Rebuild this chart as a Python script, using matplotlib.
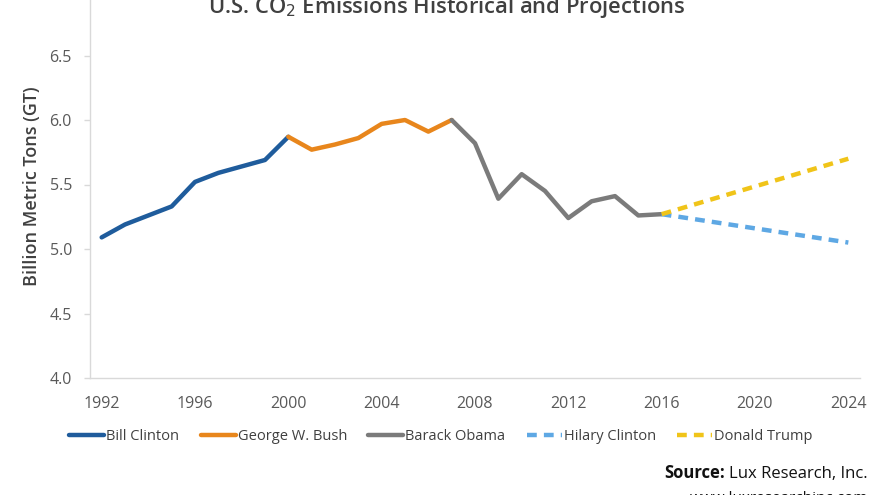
import matplotlib
matplotlib.use("Agg")
import matplotlib.pyplot as plt

# ---- data ----
clinton_years = [1992, 1993, 1994, 1995, 1996, 1997, 1998, 1999, 2000]
clinton_vals = [5.09, 5.19, 5.26, 5.33, 5.52, 5.59, 5.64, 5.69, 5.87]
bush_years = [2000, 2001, 2002, 2003, 2004, 2005, 2006, 2007]
bush_vals = [5.87, 5.77, 5.81, 5.86, 5.97, 6.00, 5.91, 6.00]
obama_years = [2007, 2008, 2009, 2010, 2011, 2012, 2013, 2014, 2015, 2016]
obama_vals = [6.00, 5.82, 5.39, 5.58, 5.45, 5.24, 5.37, 5.41, 5.26, 5.27]
hilary_years = [2016, 2024]
hilary_vals = [5.27, 5.05]
trump_years = [2016, 2024]
trump_vals = [5.27, 5.70]

x_ticks = [1992, 1996, 2000, 2004, 2008, 2012, 2016, 2020, 2024]
y_ticks = [4.0, 4.5, 5.0, 5.5, 6.0, 6.5, 7.0]
y_labels = ["4.0", "4.5", "5.0", "5.5", "6.0", "6.5", "7.0"]

title = "U.S. CO$_2$ Emissions Historical and Projections"
ylabel = "Billion Metric Tons (GT)"

plt.rcParams['font.family'] = ['Open Sans', 'DejaVu Sans']

fig = plt.figure(figsize=(8.8, 4.95), dpi=100)
ax = fig.add_axes([90/880, 1 - 378/495, 770/880, 387/495])

lw = 3.2
ax.plot(clinton_years, clinton_vals, color="#1f5c9c", lw=lw, label="Bill Clinton", solid_capstyle="round")
ax.plot(bush_years, bush_vals, color="#e8861c", lw=lw, label="George W. Bush", solid_capstyle="round")
ax.plot(obama_years, obama_vals, color="#7b7b7b", lw=lw, label="Barack Obama", solid_capstyle="round")
ax.plot(hilary_years, hilary_vals, color="#5ea8e4", lw=lw, ls=(0, (2.2, 1.6)), label="Hilary Clinton")
ax.plot(trump_years, trump_vals, color="#f0c419", lw=lw, ls=(0, (2.2, 1.6)), label="Donald Trump")

ax.set_xlim(1991.5, 2024.5)
ax.set_ylim(4.0, 7.0)
ax.set_xticks(x_ticks)
ax.set_xticklabels([str(t) for t in x_ticks])
ax.set_yticks(y_ticks)
ax.set_yticklabels(y_labels)

for s in ["top", "right"]:
    ax.spines[s].set_visible(False)
for s in ["left", "bottom"]:
    ax.spines[s].set_color("#d9d9d9")
    ax.spines[s].set_linewidth(1.0)

ax.tick_params(axis="x", length=0, pad=13, labelsize=11.5, labelcolor="#595959")
ax.tick_params(axis="y", length=4, width=1, color="#d9d9d9", pad=9, labelsize=11.5, labelcolor="#595959")

ax.set_ylabel(ylabel, fontsize=13, color="#404040", fontweight="semibold")
ax.yaxis.set_label_coords(-0.063, 0.496)

fig.text(447/880, 1 - 13/495, title, ha="center", va="baseline", fontsize=15.8,
         color="#404040", fontweight="semibold")

leg = ax.legend(loc="center", bbox_to_anchor=(441/880, 1 - 437/495), bbox_transform=fig.transFigure,
                ncol=5, frameon=False, fontsize=10.5, handlelength=2.4, handletextpad=0.15,
                columnspacing=1.45, labelcolor="#404040")

t1 = fig.text(868/880, 1 - 478/495, "Lux Research, Inc.", ha="right", va="baseline", fontsize=12, color="#111111")
fig.canvas.draw()
bb = t1.get_window_extent()
fig.text((bb.x0 - 4) / fig.bbox.width, 1 - 478/495, "Source:", ha="right", va="baseline",
         fontsize=12, color="#111111", fontweight="bold")
fig.text(868/880, 1 - 502/495, "www.luxresearchinc.com", ha="right", va="baseline", fontsize=11, color="#111111")

fig.savefig("out.png", dpi=100)
